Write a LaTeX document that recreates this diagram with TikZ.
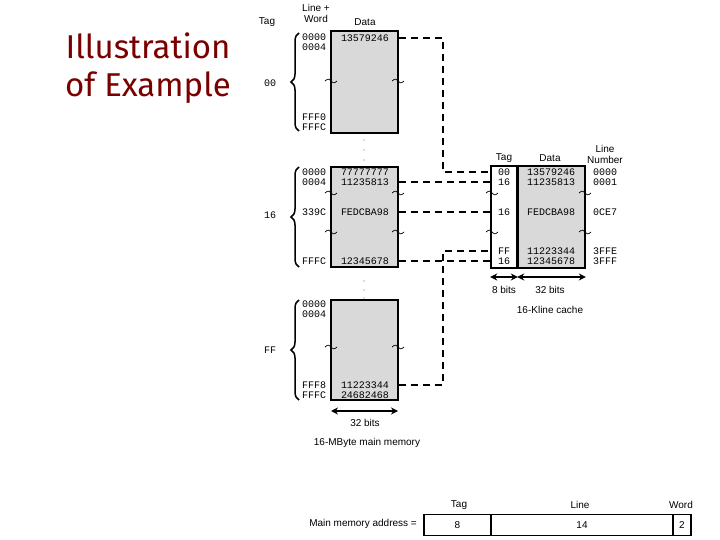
\documentclass[tikz,border=0pt]{standalone}
\usepackage{fontspec}
\setmainfont{Liberation Sans}
\newfontfamily\monof{Liberation Mono}
\newfontfamily\titlef{Fira Sans}
\usetikzlibrary{arrows.meta,decorations.pathreplacing,calc}
\definecolor{memgray}{HTML}{D9D9D9}
\definecolor{titlered}{HTML}{7A0000}
\tikzset{
  lab/.style={font=\fontsize{10}{11}\selectfont, inner sep=0pt},
  mono/.style={font=\monof\fontsize{10}{10}\selectfont, inner sep=0pt},
  memblk/.style={draw, line width=1.6pt, fill=memgray},
  tagblk/.style={draw, line width=1.6pt, fill=white},
  conn/.style={line width=1.6pt, dash pattern=on 7pt off 5pt},
  dimarrow/.style={line width=1.6pt, {Stealth[length=7pt,width=7pt]}-{Stealth[length=7pt,width=7pt]}},
  brc/.style={decorate, decoration={brace, amplitude=8pt}, line width=1.5pt},
  dotmark/.style={circle, fill=black!60, inner sep=0pt, minimum size=1.2pt},
  tildeline/.style={line width=0.7pt},
  addrbox/.style={draw, line width=1.6pt}
}
\newcommand{\brk}[2]{\draw[tildeline] (#1-6,#2) .. controls (#1-3,#2-3) and (#1-1,#2-2) .. (#1,#2) .. controls (#1+1,#2+2) and (#1+3,#2+3) .. (#1+6,#2);}
\begin{document}
\begin{tikzpicture}[x=1pt,y=-1pt]
\useasboundingbox (0,0) rectangle (720,540);
% title
\node[font=\titlef\fontsize{33}{38}\selectfont, text=titlered, align=center, inner sep=0pt] (title) at (148,68) {Illustration\\of Example};

% headers
\node[lab] (hTag) at (267,22) {Tag};
\node[lab, align=center] (hLW) at (316,13) {Line +\\Word};
\node[lab] (hData) at (365,22) {Data};

% memory block 1
\node[memblk, minimum width=67pt, minimum height=102pt, inner sep=0pt] (mem1) at (364.5,82) {};
\node[mono] (m1a) at (365,38) {13579246};
\node[mono] (a1a) at (314,37) {0000};
\node[mono] (a1b) at (314,47) {0004};
\node[mono] (a1c) at (314,117) {FFF0};
\node[mono] (a1d) at (314,127) {FFFC};
\draw[brc] (299,131) -- (299,33);
\node[mono] (tg1) at (270,83) {00};
\brk{331}{81}\brk{398}{81}

% dots
\node[dotmark] (d1) at (364,140) {};
\node[dotmark] (d2) at (364,150) {};
\node[dotmark] (d3) at (364,160) {};

% memory block 2
\node[memblk, minimum width=67pt, minimum height=100pt, inner sep=0pt] (mem2) at (364.5,217) {};
\node[mono] (m2a) at (365,172) {77777777};
\node[mono] (m2b) at (365,182) {11235813};
\node[mono] (m2c) at (365,212) {FEDCBA98};
\node[mono] (m2d) at (365,261) {12345678};
\node[mono] (a2a) at (314,172) {0000};
\node[mono] (a2b) at (314,182) {0004};
\node[mono] (a2c) at (314,212) {339C};
\node[mono] (a2d) at (314,261) {FFFC};
\draw[brc] (299,267) -- (299,167);
\node[mono] (tg2) at (270,215) {16};
\brk{331}{193}\brk{398}{193}
\brk{331}{232}\brk{398}{232}

\node[dotmark] (d4) at (364,281) {};
\node[dotmark] (d5) at (364,290) {};
\node[dotmark] (d6) at (364,298) {};

% memory block 3
\node[memblk, minimum width=67pt, minimum height=100pt, inner sep=0pt] (mem3) at (364.5,350) {};
\node[mono] (m3a) at (365,385) {11223344};
\node[mono] (m3b) at (365,395) {24682468};
\node[mono] (a3a) at (314,304) {0000};
\node[mono] (a3b) at (314,314) {0004};
\node[mono] (a3c) at (314,385) {FFF8};
\node[mono] (a3d) at (314,395) {FFFC};
\draw[brc] (299,400) -- (299,300);
\node[mono] (tg3) at (270,350) {FF};
\brk{331}{347}\brk{398}{347}

\coordinate (m3l) at (331,411);
\coordinate (m3r) at (398,411);
\draw[dimarrow] (m3l) -- (m3r);
\node[lab] (w3) at (365,423) {32 bits};
\node[lab] (mmcap) at (367,443) {16-MByte main memory};

% cache
\node[tagblk, minimum width=26pt, minimum height=102pt, inner sep=0pt] (ctag) at (504,217) {};
\node[memblk, minimum width=67pt, minimum height=102pt, inner sep=0pt] (cdat) at (551.5,217) {};
\node[lab] (chTag) at (504,158) {Tag};
\node[lab] (chData) at (550,158) {Data};
\node[lab, align=center] (chLine) at (605,154) {Line\\Number};
\node[mono] (t1) at (504,172) {00};
\node[mono] (t2) at (504,182) {16};
\node[mono] (t3) at (504,212) {16};
\node[mono] (t4) at (504,251) {FF};
\node[mono] (t5) at (504,261) {16};
\node[mono] (c1) at (551,172) {13579246};
\node[mono] (c2) at (551,182) {11235813};
\node[mono] (c3) at (551,212) {FEDCBA98};
\node[mono] (c4) at (551,251) {11223344};
\node[mono] (c5) at (551,261) {12345678};
\node[mono] (l1) at (605,172) {0000};
\node[mono] (l2) at (605,182) {0001};
\node[mono] (l3) at (605,212) {0CE7};
\node[mono] (l4) at (605,251) {3FFE};
\node[mono] (l5) at (605,261) {3FFF};
\brk{492}{193}\brk{585}{193}
\brk{492}{232}\brk{585}{232}

\draw[dimarrow] (ctag.west |- 0,277) -- (ctag.east |- 0,277);
\draw[dimarrow] (cdat.west |- 0,277) -- (cdat.east |- 0,277);
\node[lab] (w8) at (504,290) {8 bits};
\node[lab] (w32) at (550,290) {32 bits};
\node[lab] (cccap) at (550,310) {16-Kline cache};

% connectors
\coordinate (bus) at (443,0);
\draw[conn] (m1a -| mem1.east) -- (m1a -| bus) -- (t1 -| bus) -- (t1 -| ctag.west);
\draw[conn] (m2b -| mem2.east) -- (t2 -| ctag.west);
\draw[conn] (m2c -| mem2.east) -- (t3 -| ctag.west);
\draw[conn] (m3a -| mem3.east) -- (m3a -| bus) -- (t4 -| bus) -- (t4 -| ctag.west);
\draw[conn] (m2d -| mem2.east) -- (t5 -| ctag.west);

% address format
\node[lab] (aTag) at (459,505) {Tag};
\node[lab] (aLine) at (580,505) {Line};
\node[lab] (aWord) at (681,505) {Word};
\node[addrbox, minimum width=67pt, minimum height=21pt, inner sep=0pt, lab] (f1) at (457.5,525) {8};
\node[addrbox, minimum width=182pt, minimum height=21pt, inner sep=0pt, lab] (f2) at (582,525) {14};
\node[addrbox, minimum width=18pt, minimum height=21pt, inner sep=0pt, lab] (f3) at (682,525) {2};
\node[lab, anchor=east] (mmaddr) at (417,524) {Main memory address =};
\end{tikzpicture}
\end{document}
